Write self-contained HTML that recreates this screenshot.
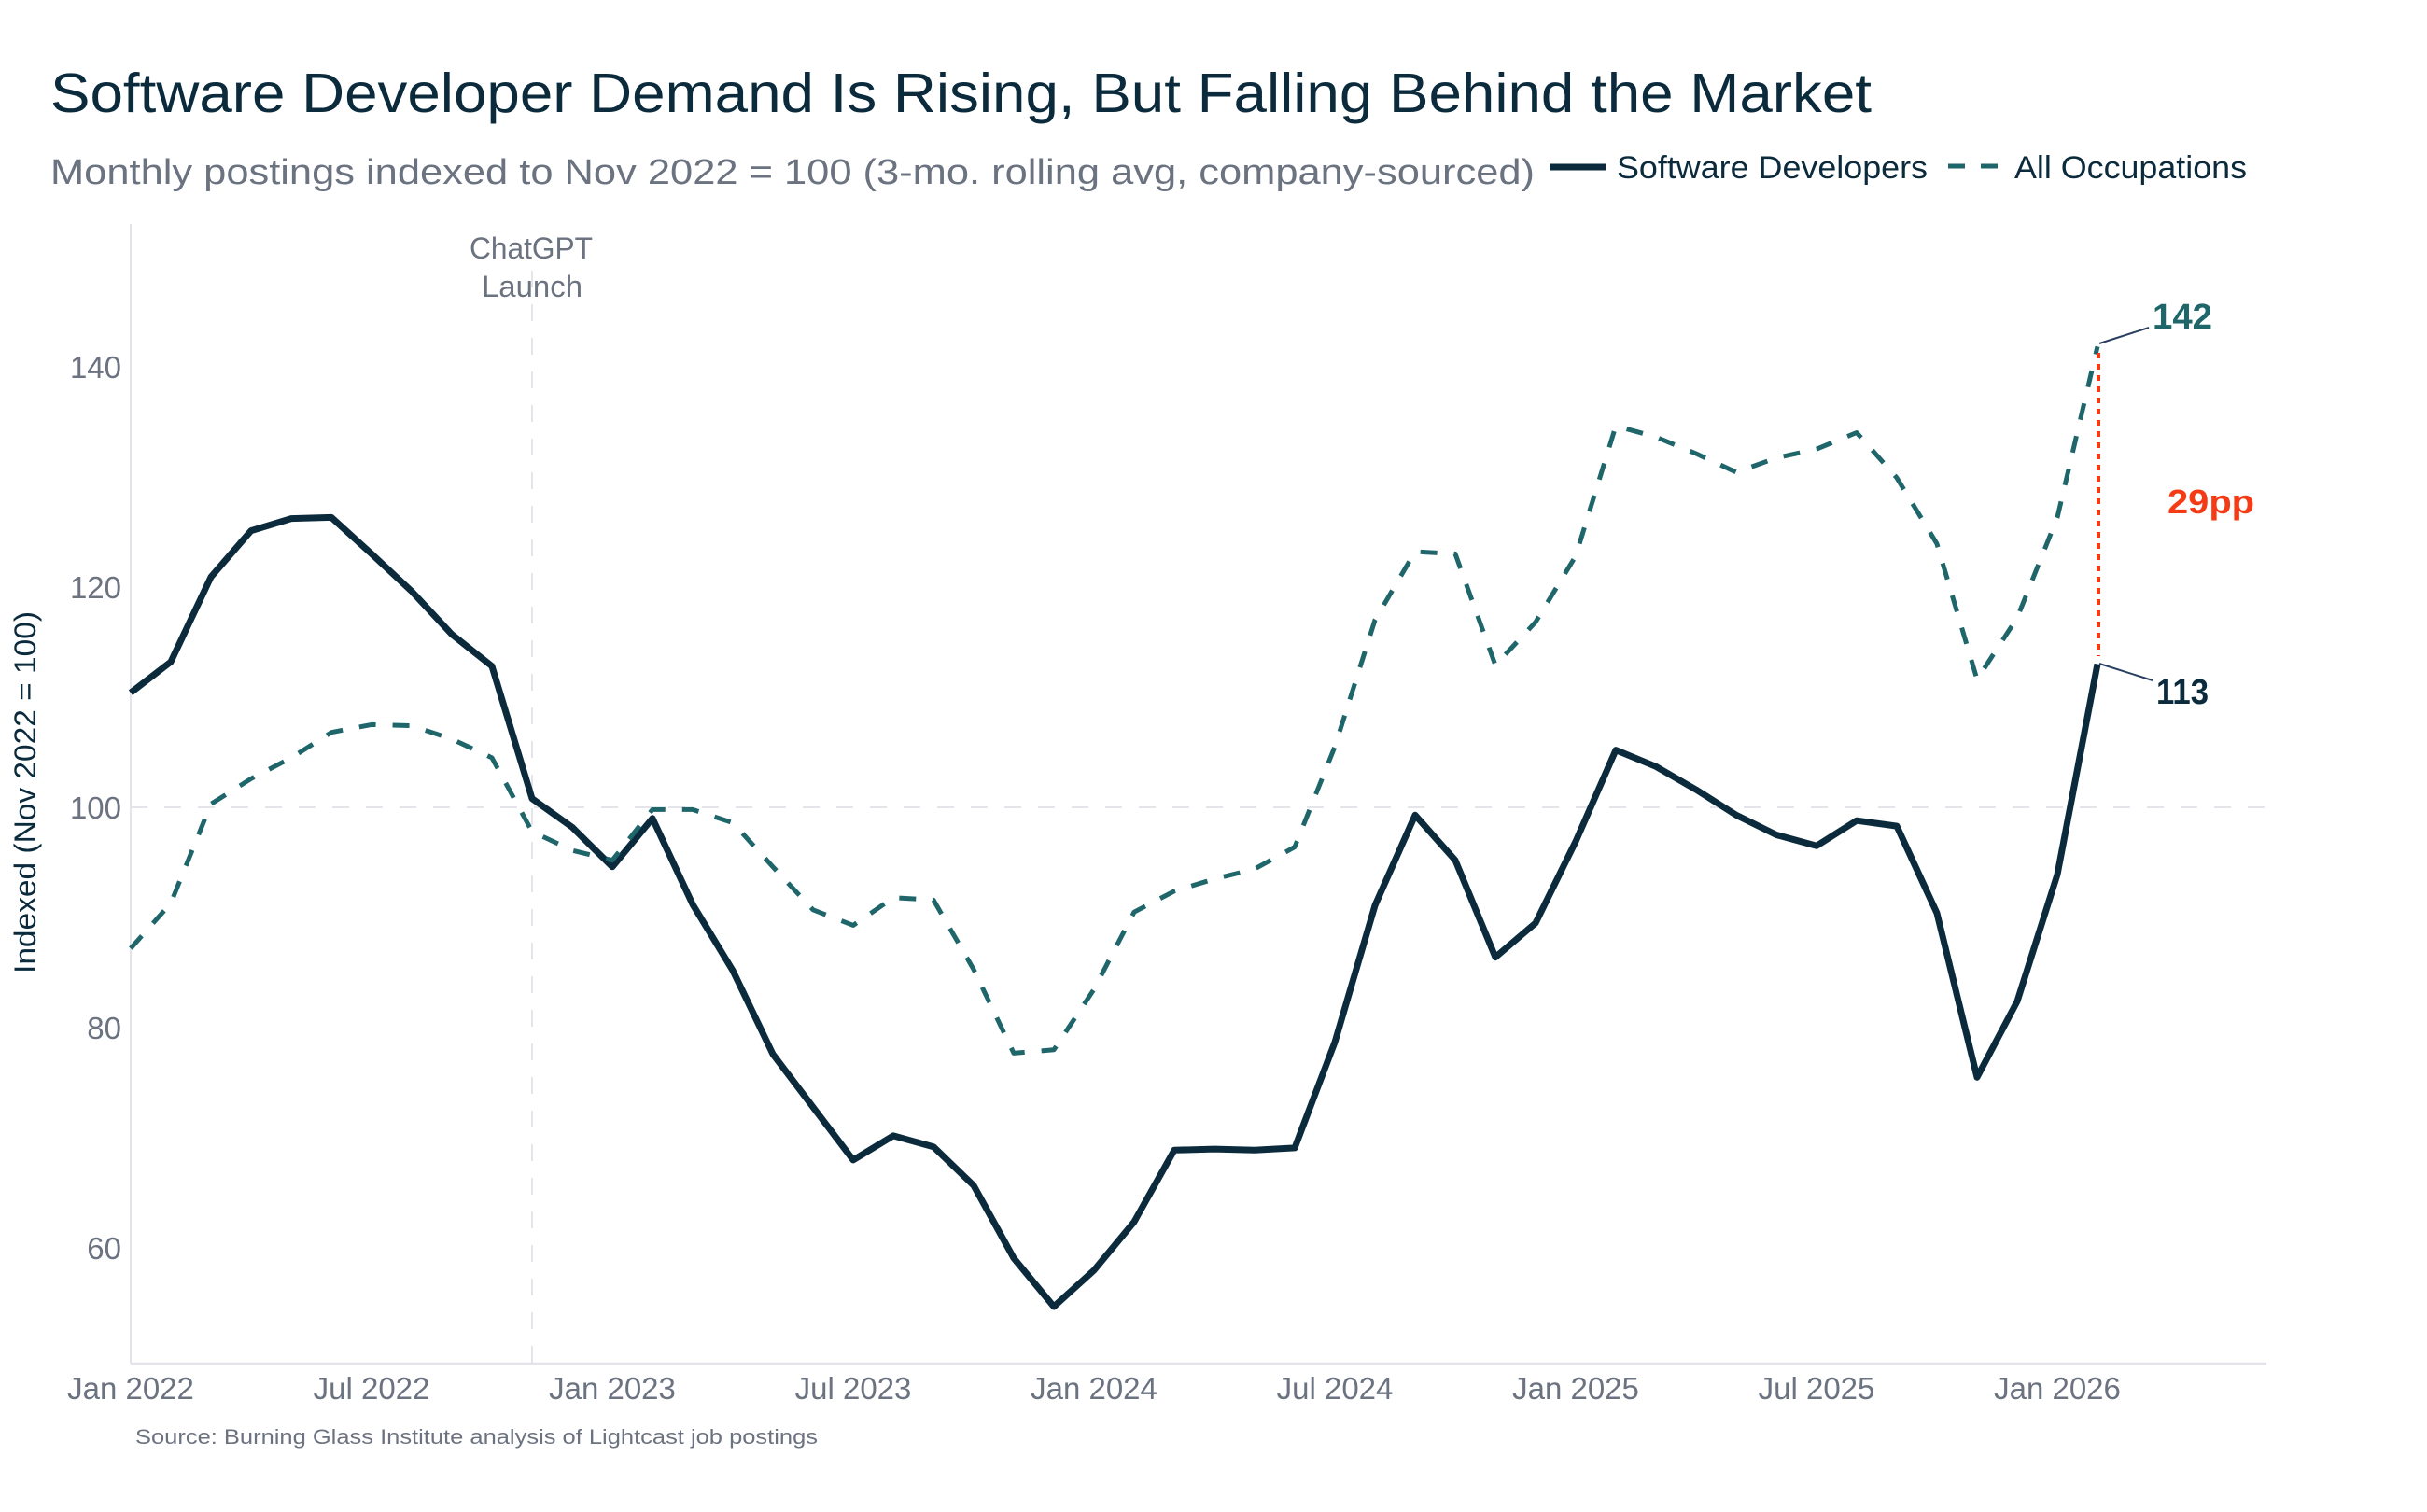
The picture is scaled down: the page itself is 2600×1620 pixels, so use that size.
<!DOCTYPE html>
<html>
<head>
<meta charset="utf-8">
<style>
  html, body { margin: 0; padding: 0; background: #ffffff; }
  svg { display: block; }
  text { font-family: "Liberation Sans", "DejaVu Sans", sans-serif; }
</style>
</head>
<body>
<svg width="2600" height="1620" viewBox="0 0 2600 1620" xmlns="http://www.w3.org/2000/svg">
  <rect x="0" y="0" width="2600" height="1620" fill="#ffffff"/>

  <!-- Title & subtitle -->
  <text x="54" y="120" font-size="59" fill="#0b2b3d" textLength="1951" lengthAdjust="spacingAndGlyphs">Software Developer Demand Is Rising, But Falling Behind the Market</text>
  <text x="54" y="197" font-size="38" fill="#6b7280" textLength="1590" lengthAdjust="spacingAndGlyphs">Monthly postings indexed to Nov 2022 = 100 (3-mo. rolling avg, company-sourced)</text>

  <!-- Legend -->
  <line x1="1660" y1="179" x2="1720" y2="179" stroke="#0b2b3d" stroke-width="7"/>
  <text x="1732" y="191" font-size="34" fill="#0b2b3d" textLength="333" lengthAdjust="spacingAndGlyphs">Software Developers</text>
  <line x1="2087" y1="178" x2="2105" y2="178" stroke="#1f666b" stroke-width="5"/>
  <line x1="2122" y1="178" x2="2140" y2="178" stroke="#1f666b" stroke-width="5"/>
  <text x="2158" y="191" font-size="34" fill="#0b2b3d" textLength="249" lengthAdjust="spacingAndGlyphs">All Occupations</text>

  <!-- Axes -->
  <line x1="140" y1="240" x2="140" y2="1461" stroke="#e3e4ea" stroke-width="2"/>
  <line x1="140" y1="1461" x2="2428" y2="1461" stroke="#e3e4ea" stroke-width="2.5"/>

  <!-- 100 reference line -->
  <line x1="140" y1="865" x2="2428" y2="865" stroke="#e4e5ea" stroke-width="2" stroke-dasharray="18,18"/>

  <!-- ChatGPT vline -->
  <line x1="570" y1="290" x2="570" y2="1461" stroke="#e4e5ea" stroke-width="2" stroke-dasharray="18,18"/>
  <text x="569" y="277" font-size="32" fill="#6b7280" text-anchor="middle" textLength="132" lengthAdjust="spacingAndGlyphs">ChatGPT</text>
  <text x="570" y="318" font-size="32" fill="#6b7280" text-anchor="middle" textLength="108" lengthAdjust="spacingAndGlyphs">Launch</text>

  <!-- Y tick labels -->
  <g font-size="33" fill="#6b7280" text-anchor="end">
    <text x="130" y="405">140</text>
    <text x="130" y="641">120</text>
    <text x="130" y="877">100</text>
    <text x="130" y="1113">80</text>
    <text x="130" y="1349">60</text>
  </g>

  <!-- Y axis title -->
  <text transform="translate(38,849) rotate(-90)" x="0" y="0" font-size="32" fill="#0b2b3d" text-anchor="middle" textLength="388" lengthAdjust="spacingAndGlyphs">Indexed (Nov 2022 = 100)</text>

  <!-- X tick labels -->
  <g font-size="33" fill="#6b7280" text-anchor="middle">
    <text x="140" y="1499">Jan 2022</text>
    <text x="398" y="1499">Jul 2022</text>
    <text x="656" y="1499">Jan 2023</text>
    <text x="914" y="1499">Jul 2023</text>
    <text x="1172" y="1499">Jan 2024</text>
    <text x="1430" y="1499">Jul 2024</text>
    <text x="1688" y="1499">Jan 2025</text>
    <text x="1946" y="1499">Jul 2025</text>
    <text x="2204" y="1499">Jan 2026</text>
  </g>

  <!-- Source -->
  <text x="145" y="1547" font-size="22" fill="#6b7280" textLength="731" lengthAdjust="spacingAndGlyphs">Source: Burning Glass Institute analysis of Lightcast job postings</text>

  <!-- Software Developers (solid) -->
  <polyline fill="none" stroke="#0b2b3d" stroke-width="7" stroke-linejoin="round" stroke-linecap="butt"
    points="140,742.2 183,709.1 226,618.2 269,568.6 312,555.6 355,554.4 398,593.4 441,633.5 484,679.6 527,713.8 570,855.6 613,886.3 656,928.8 699,876.8 742,968.9 785,1039.8 828,1129.5 871,1186.2 914,1242.9 957,1216.9 1000,1228.7 1043,1270.1 1086,1348.0 1129,1400.0 1172,1361.0 1215,1309.1 1258,1232.3 1301,1231.1 1344,1232.3 1387,1229.9 1430,1116.6 1473,970.1 1516,873.3 1559,921.7 1602,1025.6 1645,989.0 1688,901.6 1731,803.6 1774,821.3 1817,846.1 1860,873.3 1903,894.5 1946,906.3 1989,879.2 2032,885.1 2075,978.4 2118,1154.3 2161,1072.9 2204,937.0 2247,711.5"/>

  <!-- All Occupations (dashed) -->
  <polyline fill="none" stroke="#1f666b" stroke-width="5" stroke-linejoin="round" stroke-dasharray="18,18"
    points="140,1016.2 183,967.7 226,861.5 269,834.3 312,811.9 355,784.7 398,776.4 441,777.6 484,791.8 527,811.9 570,891.0 613,911.1 656,921.7 699,867.4 742,867.4 785,881.5 828,928.8 871,974.8 914,991.4 957,961.8 1000,964.2 1043,1038.6 1086,1128.4 1129,1124.8 1172,1059.9 1215,977.2 1258,954.8 1301,941.8 1344,931.1 1387,907.5 1430,800.0 1473,664.2 1516,591.0 1559,593.4 1602,712.7 1645,666.6 1688,595.7 1731,456.4 1774,468.2 1817,486.0 1860,506.0 1903,490.6 1946,481.2 1989,463.5 2032,511.9 2075,582.7 2118,728.0 2161,661.9 2204,554.4 2247,371.3"/>

  <!-- Gap annotation -->
  <line x1="2248" y1="378" x2="2248" y2="703" stroke="#f43b16" stroke-width="4" stroke-dasharray="6,6"/>
  <text x="2322" y="550" font-size="36" font-weight="bold" fill="#f43b16" textLength="93" lengthAdjust="spacingAndGlyphs">29pp</text>

  <!-- End labels -->
  <line x1="2249" y1="368" x2="2302" y2="351" stroke="#2a3f5f" stroke-width="2"/>
  <text x="2306" y="352" font-size="38" font-weight="bold" fill="#1f666b" textLength="64" lengthAdjust="spacingAndGlyphs">142</text>
  <line x1="2249" y1="711" x2="2306" y2="729" stroke="#2a3f5f" stroke-width="2"/>
  <text x="2310" y="754" font-size="38" font-weight="bold" fill="#0b2b3d" textLength="56" lengthAdjust="spacingAndGlyphs">113</text>
</svg>
</body>
</html>
